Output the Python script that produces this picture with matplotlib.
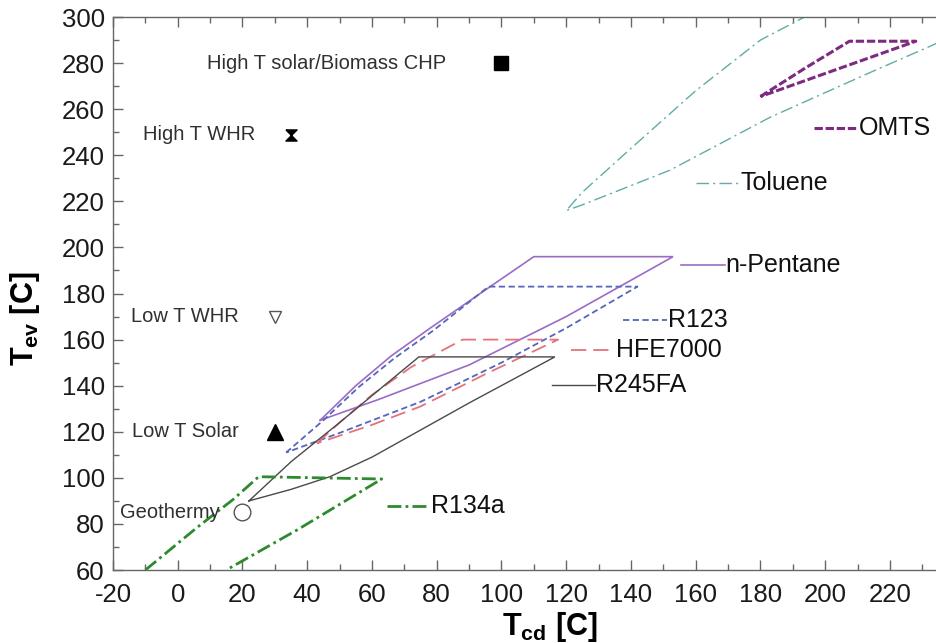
import matplotlib
matplotlib.use('Agg')
import matplotlib.pyplot as plt
from matplotlib.path import Path
from matplotlib.ticker import MultipleLocator

plt.rcParams['font.family'] = ['Liberation Sans', 'DejaVu Sans']
plt.rcParams['mathtext.fontset'] = 'custom'
plt.rcParams['mathtext.rm'] = 'Liberation Sans'
plt.rcParams['mathtext.bf'] = 'Liberation Sans:bold'
plt.rcParams['lines.scale_dashes'] = False
plt.rcParams['axes.unicode_minus'] = False

# heat source operating points (Tcd, Tev)
source_names = ['High T solar/Biomass CHP', 'High T WHR', 'Low T WHR', 'Low T Solar', 'Geothermy']
source_tcd = [100, 35, 30, 30, 20]
source_tev = [280, 249, 170, 120, 85]

# working fluid envelopes, outline traced start -> upper -> top -> lower -> start
pentane_tcd = [44, 55, 66, 78, 96, 110, 153, 120, 90, 62, 44]
pentane_tev = [125, 140, 153, 165, 182.5, 196, 196, 170, 149, 134, 125]

r123_tcd = [33.5, 45, 56, 67, 79, 96, 142, 120, 100, 75, 50, 33.5]
r123_tev = [111, 125, 139.5, 152, 164, 183, 183, 165, 150, 133, 119.5, 111]

hfe_tcd = [43, 50, 60, 72, 88, 117.5, 95, 75, 60, 43]
hfe_tev = [115, 124, 136, 148, 160, 160, 145, 131, 123, 115]

r245_tcd = [22, 35, 50, 62, 74.5, 116.5, 90, 60, 47, 35, 22]
r245_tev = [90, 107, 124, 138, 152.5, 152.5, 132.5, 109, 100.5, 95, 90]

r134_tcd = [-10, 6, 17, 25, 63, 37, 15]
r134_tev = [60, 78.5, 90.5, 100.5, 99.5, 77.5, 60]

tol_tcd = [195, 180, 160, 140, 125, 120, 125, 152, 183, 214, 240]
tol_tev = [301, 290, 268, 243, 224, 216, 218.5, 233.5, 256.5, 276, 292]

omts_tcd = [180, 194, 207.5, 228, 180]
omts_tev = [265.5, 278, 289.5, 289.5, 265.5]

fluid_names = ['OMTS', 'Toluene', 'n-Pentane', 'R123', 'HFE7000', 'R245FA', 'R134a']
fluid_tcd = [omts_tcd, tol_tcd, pentane_tcd, r123_tcd, hfe_tcd, r245_tcd, r134_tcd]
fluid_tev = [omts_tev, tol_tev, pentane_tev, r123_tev, hfe_tev, r245_tev, r134_tev]
# where the little label line starts (Tcd, Tev)
label_tcd = [196.5, 160, 155.5, 137.5, 121.5, 115.5, 64.5]
label_tev = [252, 228, 192.5, 168.5, 155.5, 140.5, 88]

xtick_values = list(range(-20, 241, 20))
xtick_labels = [str(v) for v in xtick_values[:-1]] + ['']

styles = {
    'OMTS':      dict(color='#7d2a80', lw=2.2, dashes=(6, 2)),
    'Toluene':   dict(color='#5fada5', lw=1.0, dashes=(9, 3, 1.5, 3)),
    'n-Pentane': dict(color='#9a6cc6', lw=1.2),
    'R123':      dict(color='#5566bb', lw=1.3, dashes=(4.5, 2.5)),
    'HFE7000':   dict(color='#e4737b', lw=1.3, dashes=(11, 5)),
    'R245FA':    dict(color='#4a4a4a', lw=1.0),
    'R134a':     dict(color='#2d8a2d', lw=2.0, dashes=(10, 3, 2, 3)),
}

# hourglass marker
hourglass = Path([(-1, 1), (1, 1), (-1, -1), (1, -1), (-1, 1)])
source_markers = [
    dict(marker='s', ms=9.5, mfc='black', mec='black'),
    dict(marker=hourglass, ms=8, mfc='black', mec='black'),
    dict(marker='v', ms=9, mfc='white', mec='#555555', mew=1),
    dict(marker='^', ms=12, mfc='black', mec='black'),
    dict(marker='o', ms=12, mfc='white', mec='#555555', mew=1),
]
label_gap = [40, 26, 26, 26, 16.5]

fig = plt.figure(figsize=(9.37, 6.43), dpi=100)
ax = fig.add_axes([0.1206, 0.1135, 0.9328, 0.8600])

for name, xs, ys, lx, ly in zip(fluid_names, fluid_tcd, fluid_tev, label_tcd, label_tev):
    ax.plot(xs, ys, solid_joinstyle='miter', **styles[name])
    ax.plot([lx, lx + 13.5], [ly, ly], **styles[name])
    ax.text(lx + 13.8, ly, name, fontsize=18, color='#111111', va='center', ha='left')

for name, x, y, mk, gap in zip(source_names, source_tcd, source_tev, source_markers, label_gap):
    ax.plot([x], [y], linestyle='none', **mk)
    ax.annotate(name, (x, y), xytext=(-gap, 0), textcoords='offset points',
                fontsize=14.5, color='#303030', ha='right', va='center')

ax.set_xlim(-20, 250)
ax.set_ylim(60, 300)
ax.set_xticks(xtick_values)
ax.set_xticklabels(xtick_labels)
ax.xaxis.set_minor_locator(MultipleLocator(10))
ax.yaxis.set_major_locator(MultipleLocator(20))
ax.yaxis.set_minor_locator(MultipleLocator(10))

ax.tick_params(which='both', direction='in', top=True, right=True, color='#666666', width=1)
ax.tick_params(which='major', length=7)
ax.tick_params(which='minor', length=4)
ax.tick_params(axis='x', labelsize=18.5, pad=9, labelcolor='#1a1a1a')
ax.tick_params(axis='y', labelsize=18.5, pad=6, labelcolor='#1a1a1a')
for sp in ax.spines.values():
    sp.set_color('#666666')
    sp.set_linewidth(1)

ax.set_xlabel(r'$\mathbf{T_{cd}}$ [C]', fontsize=22, fontweight='bold')
ax.set_ylabel(r'$\mathbf{T_{ev}}$ [C]', fontsize=22, fontweight='bold')
ax.xaxis.set_label_coords(0.5, -0.072)
ax.yaxis.set_label_coords(-0.081, 0.454)

fig.savefig('out.png', dpi=100)
